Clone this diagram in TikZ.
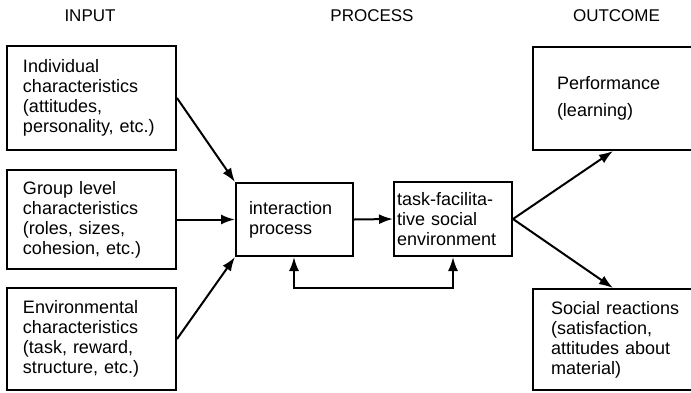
\documentclass[tikz,border=0pt]{standalone}
\usepackage{fontspec}
\setmainfont{Liberation Sans}
\usetikzlibrary{arrows.meta,calc}
\begin{document}
\begin{tikzpicture}[x=1pt,y=-1pt,
  every node/.style={font=\fontsize{18}{20}\selectfont},
  box/.style={draw,line width=2pt,rectangle,inner sep=0pt,align=left},
  hdr/.style={font=\fontsize{17}{19}\selectfont},
  tip/.tip={Latex[length=14pt,width=10pt]},
  arr/.style={line width=2pt,-tip},
  darr/.style={line width=2pt,tip-tip}]
\useasboundingbox (0,0) rectangle (691,392);
\clip (0,0) rectangle (691,392);
% headers
\node[hdr] (hin) at (90,16) {INPUT};
\node[hdr] (hpr) at (372,16) {PROCESS};
\node[hdr] (hout) at (616.5,16) {OUTCOME};
% input boxes
\node[box,minimum width=169pt,minimum height=104pt,text width=137pt] (ind) at (91.5,98)
  {Individual\\characteristics\\(attitudes,\\personality, etc.)\\[-8pt]};
\node[box,minimum width=169pt,minimum height=99pt,text width=137pt] (grp) at (91.5,219.5)
  {Group level\\characteristics\\(roles, sizes,\\cohesion, etc.)};
\node[box,minimum width=169pt,minimum height=102pt,text width=137pt] (env) at (91.5,339)
  {Environmental\\characteristics\\(task, reward,\\structure, etc.)};
% process boxes
\node[box,minimum width=117pt,minimum height=73pt,text width=91pt] (ip) at (294.5,219.5)
  {interaction\\process};
\node[box,minimum width=118pt,minimum height=74pt,text width=112pt] (tf) at (453,219)
  {task-facilita-\\tive social\\environment};
% outcome boxes
\node[box,minimum width=160pt,minimum height=103pt,text width=112pt,font=\fontsize{18}{27}\selectfont] (perf) at (613,98.5)
  {Performance\\(learning)};
\node[box,minimum width=160pt,minimum height=101pt,text width=124pt] (soc) at (613,339.5)
  {\mbox{Social reactions}\\(satisfaction,\\attitudes about\\material)};
% connectors
\draw[arr] (ind.east) -- (ip.north west);
\draw[arr] (grp.east) -- (ip.west);
\draw[arr] (env.east) -- (ip.south west);
\draw[arr] (ip.east) -- (tf.west);
\draw[arr] (tf.east) -- (perf.south);
\draw[arr] (tf.east) -- (soc.north);
\coordinate (fbL) at (294,288);
\coordinate (fbR) at (453,288);
\draw[darr] (ip.south -| fbL) -- (fbL) -- (fbR) -- (tf.south -| fbR);
\end{tikzpicture}
\end{document}
